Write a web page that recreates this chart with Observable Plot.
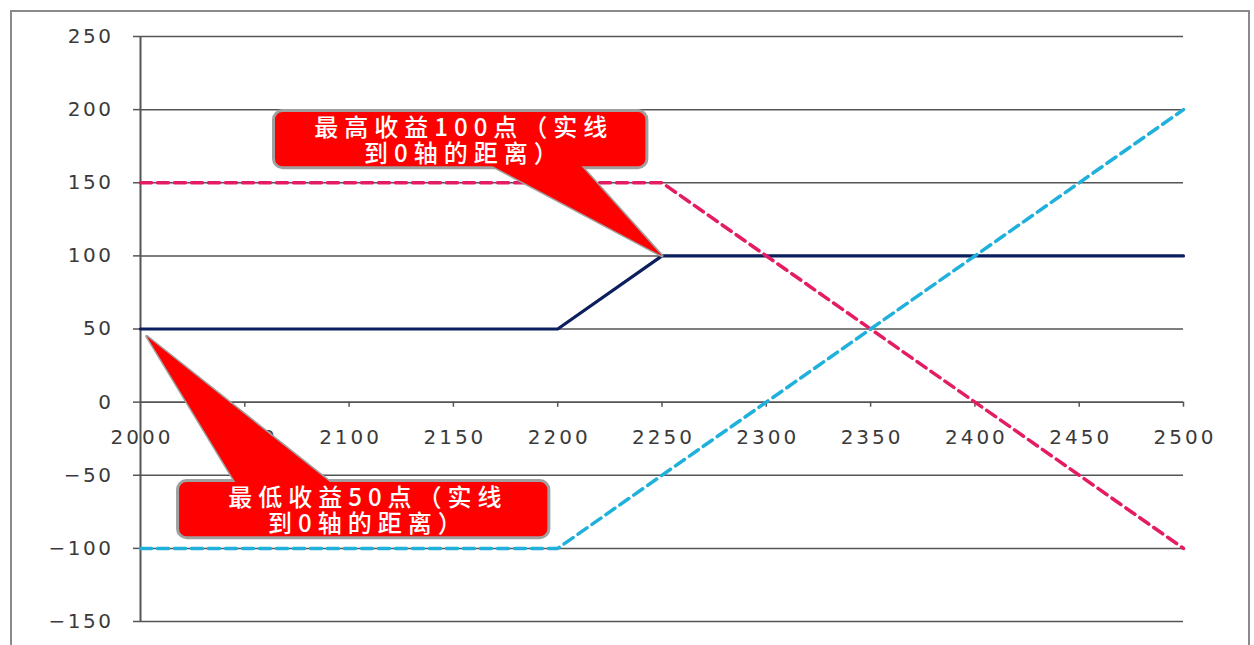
<!DOCTYPE html>
<html>
<head>
<meta charset="utf-8">
<script src="https://cdn.jsdelivr.net/npm/d3@7"></script>
<script src="https://cdn.jsdelivr.net/npm/@observablehq/plot@0.6"></script>
<style>
  body { margin: 0; background: #fff; }
  #wrap { position: relative; width: 1254px; height: 645px; overflow: hidden; background: #fff; }
  #frame { position: absolute; left: 10px; top: 10px; width: 1240px; height: 700px; border: 2px solid #8a8a8a; box-sizing: border-box; }
  #chart { position: absolute; left: 0; top: 0; }
</style>
</head>
<body>
<div id="wrap"><div id="frame"></div><div id="chart"></div></div>
<script>
// ---- data ----
const yTicks = [-150, -100, -50, 0, 50, 100, 150, 200, 250];
const xTicks = [2000, 2050, 2100, 2150, 2200, 2250, 2300, 2350, 2400, 2450, 2500];

const navyX = [2000, 2200, 2250, 2500];
const navyY = [50, 50, 100, 100];
const pinkX = [2000, 2250, 2500];
const pinkY = [150, 150, -100];
const cyanX = [2000, 2200, 2500];
const cyanY = [-100, -100, 200];

// ---- annotations (callouts, in data units) ----
const calloutText = ["最高收益100点（实线\n到0轴的距离）", "最低收益50点（实线\n到0轴的距离）"];
const calloutTipX = [2250, 2003];
const calloutTipY = [100, 45];
const calloutBoxX1 = [2064, 2018];
const calloutBoxX2 = [2243, 2196];
const calloutBoxY1 = [199, -54];
const calloutBoxY2 = [160, -93];
const calloutBaseX1 = [2168, 2046];
const calloutBaseX2 = [2211, 2092];
const calloutBaseY = [162, -56];
const calloutTextX = [2155, 2109];
const calloutTextY = [179, -74];

const toPts = (xs, ys) => xs.map((x, i) => ({x, y: ys[i]}));
const navy = toPts(navyX, navyY);
const pink = toPts(pinkX, pinkY);
const cyan = toPts(cyanX, cyanY);

const callouts = calloutText.map((t, i) => ({
  text: t, tx: calloutTextX[i], ty: calloutTextY[i],
  x1: calloutBoxX1[i], x2: calloutBoxX2[i], y1: calloutBoxY1[i], y2: calloutBoxY2[i]
}));
const triangles = calloutText.flatMap((t, i) => [
  {id: i, x: calloutBaseX1[i], y: calloutBaseY[i]},
  {id: i, x: calloutTipX[i], y: calloutTipY[i]},
  {id: i, x: calloutBaseX2[i], y: calloutBaseY[i]}
]);

const axisColor = "#555";
const labelColor = "#3a3a3a";
const red = "#ff0000";

const chart = Plot.plot({
  width: 1254,
  height: 645,
  marginLeft: 140,
  marginRight: 71,
  marginTop: 36,
  marginBottom: 24,
  style: {fontFamily: "'DejaVu Sans', sans-serif", background: "transparent"},
  x: {domain: [2000, 2500], axis: null},
  y: {domain: [-150, 250], axis: null},
  marks: [
    Plot.gridY(yTicks, {stroke: axisColor, strokeOpacity: 1, strokeWidth: 1.5}),
    Plot.axisY(yTicks, {tickSize: 7, tickPadding: 20, fontSize: 20, stroke: axisColor, fill: labelColor, strokeWidth: 1.5, className: "ylab", tickFormat: d => d < 0 ? "\u2212" + Math.abs(d) : String(d)}),
    Plot.ruleX([2000], {y1: -150, y2: 250, stroke: axisColor, strokeWidth: 2}),
    Plot.ruleY([0], {x1: 2000, x2: 2500, stroke: axisColor, strokeWidth: 1.5}),
    Plot.ruleX(xTicks.slice(1), {x: d => d, y1: () => 0, y2: () => -3.5, stroke: axisColor, strokeWidth: 1.5}),
    Plot.text(xTicks, {x: d => d, y: () => 0, text: d => String(d), dy: 35, dx: 1.5, fontSize: 20, fill: labelColor, className: "xlab"}),
    Plot.line(navy, {x: "x", y: "y", stroke: "#0b1f5e", strokeWidth: 3.2}),
    Plot.line(pink, {x: "x", y: "y", stroke: "#e31c63", strokeWidth: 3.5, strokeDasharray: "11,6"}),
    Plot.line(cyan, {x: "x", y: "y", stroke: "#1fb1dc", strokeWidth: 3.5, strokeDasharray: "11,6"}),
    // callouts
    Plot.line(triangles, {x: "x", y: "y", z: "id", fill: red, stroke: "#a0a0a0", strokeWidth: 3, curve: "linear"}),
    Plot.rect(callouts, {x1: "x1", x2: "x2", y1: "y1", y2: "y2", rx: 9, fill: red, stroke: "#a0a0a0", strokeWidth: 3}),
    Plot.line(triangles, {x: "x", y: "y", z: "id", fill: red, stroke: "none"}),
    Plot.text(callouts, {x: "tx", y: "ty", text: "text", fill: "white", fontSize: 24, fontWeight: 500, lineHeight: 1.1, fontFamily: "'Noto Sans CJK SC', sans-serif", className: "callout-text"})
  ]
});
document.getElementById("chart").append(chart);
d3.select(chart).selectAll(".ylab text, g.ylab text").style("letter-spacing", "2.5px");
d3.select(chart).selectAll(".xlab text, g.xlab text").style("letter-spacing", "3px");
d3.select(chart).selectAll(".callout-text text, g.callout-text text").style("letter-spacing", "6px");
</script>
</body>
</html>
